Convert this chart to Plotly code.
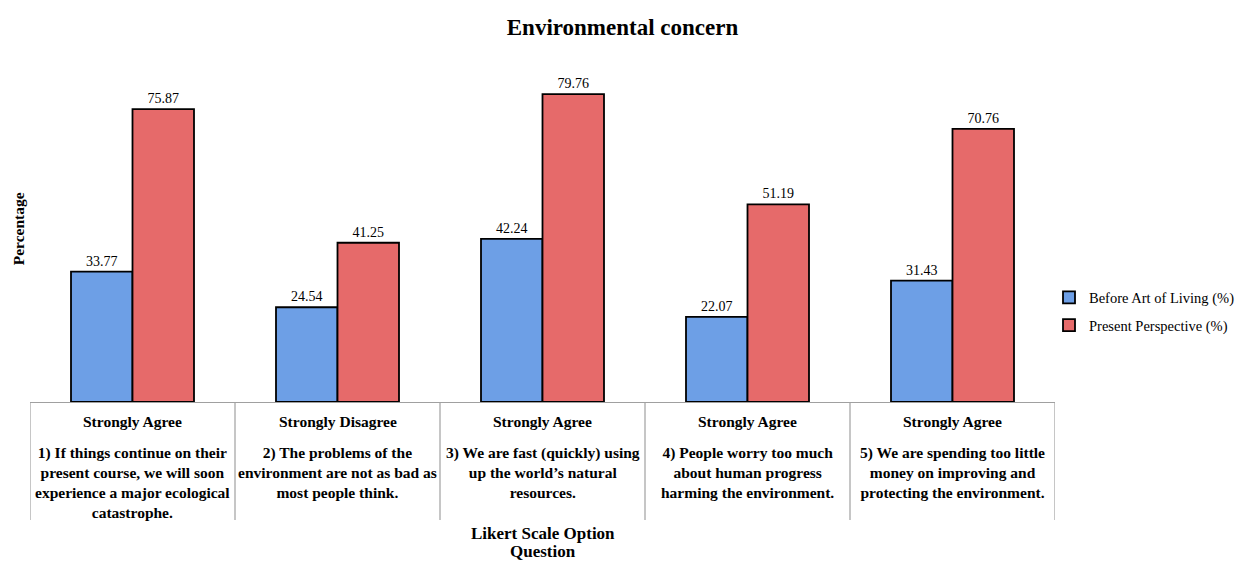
import plotly.graph_objects as go

categories = ["Q1", "Q2", "Q3", "Q4", "Q5"]
likert_options = ["Strongly Agree", "Strongly Disagree", "Strongly Agree", "Strongly Agree", "Strongly Agree"]
questions = [
    "1) If things continue on their<br>present course, we will soon<br>experience a major ecological<br>catastrophe.",
    "2) The problems of the<br>environment are not as bad as<br>most people think.",
    "3) We are fast (quickly) using<br>up the world\u2019s natural<br>resources.",
    "4) People worry too much<br>about human progress<br>harming the environment.",
    "5) We are spending too little<br>money on improving and<br>protecting the environment.",
]
before_vals = [33.77, 24.54, 42.24, 22.07, 31.43]
present_vals = [75.87, 41.25, 79.76, 51.19, 70.76]
series_names = ["Before Art of Living (%)", "Present Perspective (%)"]
x_title_lines = ["Likert Scale Option", "Question"]

FONT = "Liberation Serif"
xpos = list(range(len(categories)))

# page has an 8px body margin; figure offset accordingly
W, H = 1252, 553
ML, MR, MT, MB = 22, 205, 52, 159
PH = H - MT - MB
PW = W - ML - MR

fig = go.Figure()
fig.add_trace(go.Bar(
    x=xpos, y=before_vals, name=series_names[0], legendgroup="a",
    marker=dict(color="#6d9fe6", line=dict(color="black", width=1.8)),
    text=[f"{v:.2f}" for v in before_vals], textposition="outside",
    textfont=dict(family=FONT, size=14, color="black"), cliponaxis=False,
))
fig.add_trace(go.Bar(
    x=xpos, y=present_vals, name=series_names[1], legendgroup="b",
    marker=dict(color="#e66a6a", line=dict(color="black", width=1.8)),
    text=[f"{v:.2f}" for v in present_vals], textposition="outside",
    textfont=dict(family=FONT, size=14, color="black"), cliponaxis=False,
))

shapes = []
for i in range(len(categories) + 1):
    shapes.append(dict(type="line", xref="x", yref="paper", x0=i - 0.5, x1=i - 0.5,
                       y0=0, y1=-118 / PH, line=dict(color="#a0a0a0", width=1.2)))

annotations = []
for i, (lk, q) in enumerate(zip(likert_options, questions)):
    annotations.append(dict(x=i, y=-0.026, xref="x", yref="paper", text=f"<b>{lk}</b>",
                            showarrow=False, yanchor="top",
                            font=dict(family=FONT, size=15.5, color="black")))
    annotations.append(dict(x=i, y=-0.118, xref="x", yref="paper", text=f"<b>{q}</b>",
                            showarrow=False, yanchor="top", align="center",
                            font=dict(family=FONT, size=15.5, color="black")))
for j, line in enumerate(x_title_lines):
    annotations.append(dict(x=0.5, y=-(131 + 18.5 * j) / PH, xref="paper", yref="paper",
                            text=f"<b>{line}</b>", showarrow=False, yanchor="middle",
                            font=dict(family=FONT, size=17, color="black")))
annotations.append(dict(x=-12 / PW, y=0.505, xref="paper", yref="paper",
                        text="<b>Percentage</b>", showarrow=False, textangle=-90,
                        xanchor="center", yanchor="middle",
                        font=dict(family=FONT, size=15.5, color="black")))

fig.update_layout(
    width=W, height=H,
    paper_bgcolor="white", plot_bgcolor="white",
    margin=dict(l=ML, r=MR, t=MT, b=MB),
    title=dict(text="<b>Environmental concern</b>", x=614.5 / W, xanchor="center",
               y=1 - 19 / H, yanchor="middle",
               font=dict(family=FONT, size=23, color="black")),
    barmode="group", bargap=0.4, bargroupgap=0,
    xaxis=dict(range=[-0.5, 4.5], showticklabels=False, ticks="", showgrid=False,
               showline=True, linecolor="#a0a0a0", linewidth=1.2, zeroline=False,
               automargin=False),
    yaxis=dict(range=[0, 88.6], showticklabels=False, ticks="", showgrid=False,
               showline=False, zeroline=False, automargin=False),
    legend=dict(xref="paper", x=(1041 - ML) / PW, y=0.265, xanchor="left", yanchor="middle",
                font=dict(family=FONT, size=14.5, color="black"),
                itemwidth=30, tracegroupgap=6),
    shapes=shapes, annotations=annotations,
    showlegend=True,
)

fig.write_html("out.html")
